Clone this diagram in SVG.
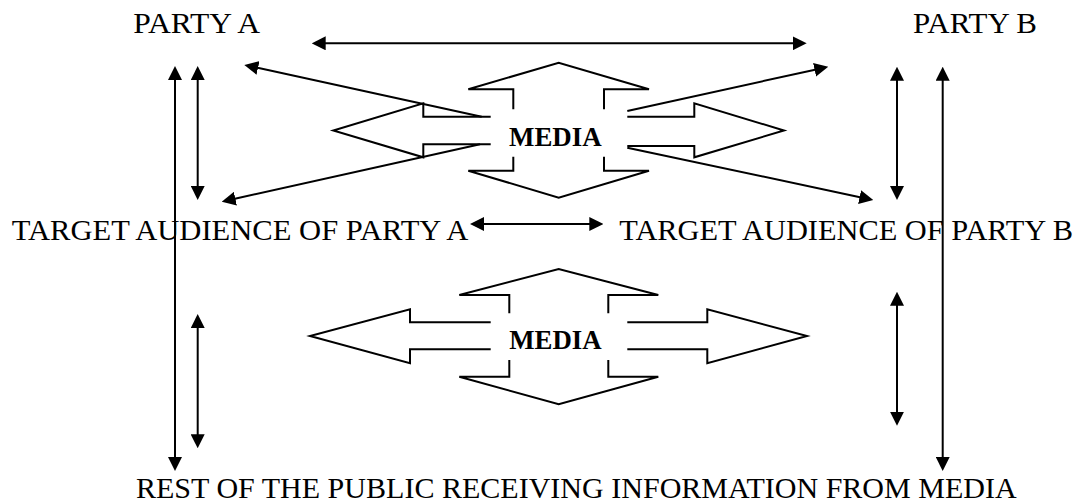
<svg xmlns="http://www.w3.org/2000/svg" width="1078" height="503" viewBox="0 0 1078 503">
<style>
.lbl{font-family:"Liberation Serif","Times New Roman",serif;font-size:30px;fill:#000}
.med{font-family:"Liberation Serif","Times New Roman",serif;font-size:27.5px;font-weight:bold;fill:#000}
.arm{fill:none;stroke:#000;stroke-width:2;stroke-linejoin:miter}
.con{fill:none;stroke:#000;stroke-width:2;marker-end:url(#ah);marker-start:url(#ah)}
.one{fill:none;stroke:#000;stroke-width:2;marker-end:url(#ah)}
</style>
<defs>
<marker id="ah" markerUnits="userSpaceOnUse" markerWidth="14" markerHeight="14" refX="4" refY="7" orient="auto-start-reverse">
<path d="M0,0 L14,7 L0,14 z" fill="#000"/>
</marker>
</defs>
<rect width="1078" height="503" fill="#fff"/>
<g id="partyA"><text class="lbl" x="133.3" y="33.3" textLength="126.7" lengthAdjust="spacingAndGlyphs">PARTY A</text></g>
<g id="partyB"><text class="lbl" x="913" y="33.3" textLength="124" lengthAdjust="spacingAndGlyphs">PARTY B</text></g>
<g id="targetA"><text class="lbl" x="11.7" y="240" textLength="456.6" lengthAdjust="spacingAndGlyphs">TARGET AUDIENCE OF PARTY A</text></g>
<g id="targetB"><text class="lbl" x="619.3" y="240" textLength="453.7" lengthAdjust="spacingAndGlyphs">TARGET AUDIENCE OF PARTY B</text></g>
<g id="public"><text class="lbl" x="136" y="498.3" textLength="880.7" lengthAdjust="spacingAndGlyphs">REST OF THE PUBLIC RECEIVING INFORMATION FROM MEDIA</text></g>
<g id="media1">
<polyline class="arm" points="513.3,109.3 513.3,89.3 468.3,89.3 558.7,62.7 649,89.3 604,89.3 604,109.3"/>
<polyline class="arm" points="490.7,116.7 423.3,116.7 423.3,103.3 333.3,130.5 423.3,157.3 423.3,144.3 490.7,144.3"/>
<polyline class="arm" points="627.3,116.7 694.3,116.7 694.3,103.3 784,130.5 694.3,157.3 694.3,146 627.3,146"/>
<polyline class="arm" points="513.3,156.7 513.3,170.7 468.3,170.7 558.7,197.7 649,170.7 604,170.7 604,156.7"/>
<text class="med" x="509" y="145.7" textLength="92.7" lengthAdjust="spacingAndGlyphs">MEDIA</text>
</g>
<g id="media2">
<polyline class="arm" points="509.3,313.3 509.3,295 459.3,295 558.7,269 658.3,295 608.3,295 608.3,313.3"/>
<polyline class="arm" points="490.7,322.3 410,322.3 410,309.3 310,336 410,363.3 410,349.3 490.7,349.3"/>
<polyline class="arm" points="627.3,322.3 707.3,322.3 707.3,309.3 807,336 707.3,363.3 707.3,349.3 627.3,349.3"/>
<polyline class="arm" points="509.3,360 509.3,376.7 459.3,376.7 558.7,404.3 658.3,376.7 608.3,376.7 608.3,360"/>
<text class="med" x="509.3" y="349.3" textLength="92.4" lengthAdjust="spacingAndGlyphs">MEDIA</text>
</g>
<g id="connectors">
<line class="con" x1="321.7" y1="43.3" x2="796.7" y2="43.3"/>
<line class="con" x1="480" y1="224" x2="593.3" y2="224"/>
<line class="one" x1="481.7" y1="116.7" x2="254.1" y2="67.1"/>
<line class="one" x1="480" y1="144.3" x2="231.5" y2="199.5"/>
<line class="one" x1="627.3" y1="111" x2="818.5" y2="68.9"/>
<line class="one" x1="627.3" y1="147.7" x2="863.5" y2="197.9"/>
<line class="con" x1="175" y1="76" x2="175" y2="461"/>
<line class="con" x1="197.7" y1="76" x2="197.7" y2="190"/>
<line class="con" x1="197.7" y1="324" x2="197.7" y2="438.3"/>
<line class="con" x1="897" y1="76.7" x2="897" y2="190"/>
<line class="con" x1="942.7" y1="76.7" x2="942.7" y2="461"/>
<line class="con" x1="897" y1="301.7" x2="897" y2="415.7"/>
</g>
</svg>
